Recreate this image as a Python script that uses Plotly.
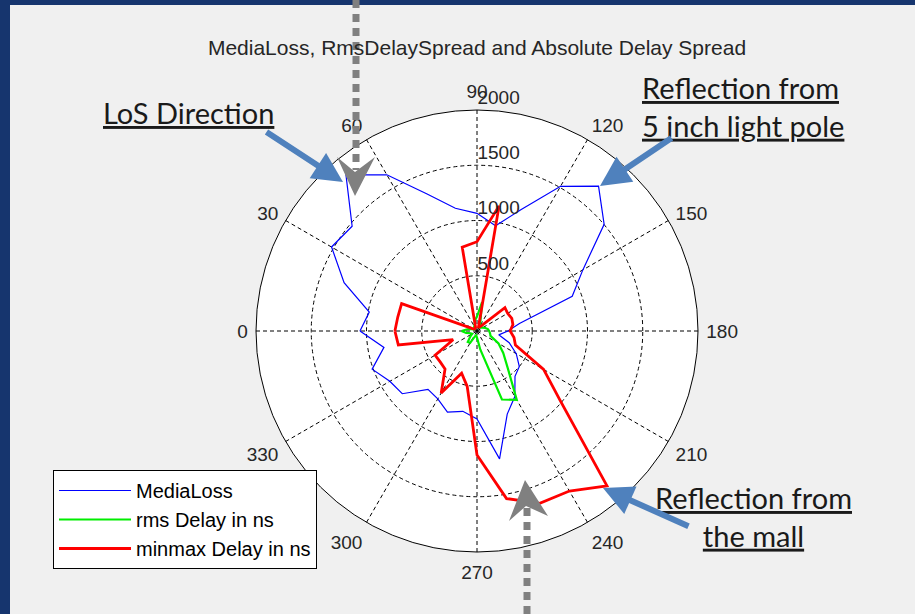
import plotly.graph_objects as go

W, H = 915, 614

# ---------------- data ----------------
angles_deg = list(range(0, 360, 10))

media_loss = [1059, 990, 1280, 1520, 1475, 1845, 1632, 1320, 1128, 1065,
              967, 1170, 1512, 1711, 1502, 1106, 917, 390, 280, 200,
              310, 410, 500, 535, 685, 800, 1175, 795, 738, 782,
              710, 690, 883, 911, 1010, 855]

rms_delay = [140, 90, 50, 30, 30, 40, 50, 60, 100, 130,
             265, 90, 50, 40, 50, 60, 80, 100, 110, 120,
             130, 225, 310, 430, 720, 660, 170, 60, 40, 50,
             125, 130, 80, 50, 60, 100]

minmax_delay = [743, 728, 726, 40, 30, 30, 30, 40, 770, 808,
                1150, 40, 40, 60, 330, 320, 335, 330, 300, 340,
                370, 696, 985, 1830, 1672, 1660, 1540, 1122, 510, 407,
                648, 450, 435, 438, 230, 723]

series_names = ["MediaLoss", "rms Delay in ns", "minmax Delay in ns"]
series_colors = ["#0000ff", "#00ee00", "#ff0000"]
series_widths = [1.2, 2.2, 2.8]

angular_ticks = list(range(0, 360, 30))
radial_ticks = [500, 1000, 1500, 2000]
radial_max = 2000

title_text = "MediaLoss, RmsDelaySpread and Absolute Delay Spread"


def closed(seq):
    return list(seq) + [seq[0]]


def px(x):
    return x / W


def py(y):
    return 1 - y / H


fig = go.Figure()
for name, vals, col, lw in zip(series_names, [media_loss, rms_delay, minmax_delay],
                                series_colors, series_widths):
    fig.add_trace(go.Scatterpolar(
        r=closed(vals), theta=closed(angles_deg), mode="lines", name=name,
        line=dict(color=col, width=lw), hoverinfo="skip"))

tick_font = dict(family="Arial, Liberation Sans, sans-serif", size=19, color="#262626")

fig.update_layout(
    width=W, height=H,
    margin=dict(l=0, r=0, t=0, b=0),
    paper_bgcolor="#f0f0f0",
    showlegend=True,
    title=dict(text=title_text, x=px(477), y=py(48), xref="paper", yref="paper",
               xanchor="center", yanchor="middle",
               font=dict(family="Arial, Liberation Sans, sans-serif", size=21, color="#262626")),
    polar=dict(
        domain=dict(x=[px(256), px(698)], y=[py(552), py(110)]),
        bgcolor="white",
        angularaxis=dict(
            rotation=180, direction="clockwise",
            tickmode="array", tickvals=angular_ticks,
            ticktext=[str(a) for a in angular_ticks],
            ticks="outside", ticklen=4, tickcolor="rgba(0,0,0,0)",
            tickfont=tick_font,
            showline=True, linecolor="black", linewidth=1,
            showgrid=True, gridcolor="black", gridwidth=1, griddash="4px,3px",
        ),
        radialaxis=dict(
            range=[0, radial_max], angle=90, side="clockwise",
            tickmode="array", tickvals=radial_ticks,
            ticktext=[f"{v}<br>&nbsp;" for v in radial_ticks],
            ticks="", tickfont=tick_font, tickangle=90,
            showline=False,
            showgrid=True, gridcolor="black", gridwidth=1, griddash="4px,3px",
        ),
    ),
    legend=dict(
        x=px(53), y=py(470), xanchor="left", yanchor="top",
        bgcolor="white", bordercolor="black", borderwidth=1,
        font=dict(family="Arial, Liberation Sans, sans-serif", size=20, color="black"),
        itemwidth=72, tracegroupgap=0,
    ),
)

# ---------------- slide decorations ----------------
shapes = []
slide_blue = "#16356e"
shapes.append(dict(type="rect", xref="paper", yref="paper", x0=0, x1=px(10), y0=0, y1=1,
                   fillcolor=slide_blue, line=dict(width=0), layer="below"))
shapes.append(dict(type="rect", xref="paper", yref="paper", x0=0, x1=1, y0=py(5), y1=1,
                   fillcolor=slide_blue, line=dict(width=0), layer="below"))

gray = "#808080"
# dotted direction markers
shapes.append(dict(type="line", xref="paper", yref="paper", x0=px(356), x1=px(356),
                   y0=py(0), y1=py(170), line=dict(color=gray, width=7, dash="8px,6px"),
                   layer="above"))
shapes.append(dict(type="line", xref="paper", yref="paper", x0=px(527), x1=px(527),
                   y0=py(508), y1=py(614), line=dict(color=gray, width=7, dash="8px,6px"),
                   layer="above"))


def path(points):
    s = "M " + " L ".join(f"{px(x):.5f},{py(y):.5f}" for x, y in points) + " Z"
    return s


shapes.append(dict(type="path", xref="paper", yref="paper",
                   path=path([(337, 157), (355, 172), (375, 157), (355, 196)]),
                   fillcolor=gray, line=dict(width=0), layer="above"))
shapes.append(dict(type="path", xref="paper", yref="paper",
                   path=path([(525, 480), (509, 521), (526, 506), (548, 516)]),
                   fillcolor=gray, line=dict(width=0), layer="above"))
fig.update_layout(shapes=shapes)

note_font = dict(family="Lato, Open Sans, sans-serif", size=29, color="#1a1a1a")
arrow_blue = "#4f81bd"
annotations = [
    dict(text="<u>LoS Direction</u>", x=px(188), y=py(113), xref="paper", yref="paper",
         showarrow=False, font=note_font, xanchor="center", yanchor="middle"),
    dict(text="<u>Reflection from</u><br><u>5 inch light pole</u>", x=px(640), y=py(107),
         xref="paper", yref="paper", showarrow=False, font=note_font,
         xanchor="left", yanchor="middle", align="left"),
    dict(text="<u>Reflection from</u><br><u>the mall</u>", x=px(753), y=py(516),
         xref="paper", yref="paper", showarrow=False, font=note_font,
         xanchor="center", yanchor="middle", align="center"),
]
for (tx, ty), (hx, hy) in [((265, 131), (343, 182)), ((673, 137), (600, 186)),
                           ((690, 527), (603, 488))]:
    annotations.append(dict(text="", x=px(hx), y=py(hy), xref="paper", yref="paper",
                            ax=tx - hx, ay=ty - hy, showarrow=True, arrowhead=2,
                            arrowsize=1.0, arrowwidth=6, arrowcolor=arrow_blue))
fig.update_layout(annotations=annotations)

fig.write_html("out.html",
               config={"displayModeBar": False},
               post_script="document.body.style.margin='0';"
                           "document.body.style.overflow='hidden';")
